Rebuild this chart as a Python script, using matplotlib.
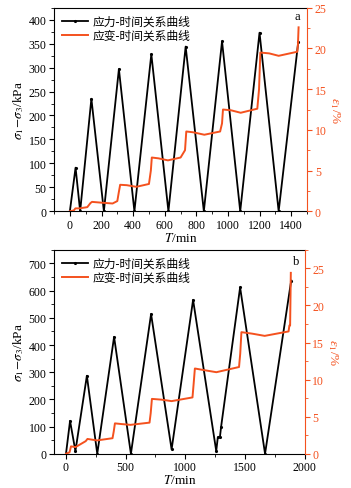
import numpy as np
import matplotlib.pyplot as plt
from matplotlib.ticker import MultipleLocator

plt.rcParams['font.family'] = ['Liberation Serif', 'Noto Sans CJK SC']
plt.rcParams['mathtext.fontset'] = 'stix'
plt.rcParams['axes.unicode_minus'] = False

RED = '#f4511e'

# --- panel a ---
t_stress_a = [0, 36, 65, 136, 215, 310, 408, 515, 623, 732, 847, 962, 1077, 1199, 1320, 1444]
stress_a = [0, 91, 0, 235, 0, 297, 0, 328, 0, 344, 0, 355, 0, 373, 0, 354]

t_strain_a = [0, 25, 35, 60, 110, 130, 140, 200, 270, 300, 310, 318, 360, 420, 500, 512, 518,
              560, 620, 700, 728, 736, 780, 850, 950, 962, 968, 1020, 1080, 1185, 1196, 1204,
              1260, 1320, 1438, 1442, 1446]
strain_a = [0, 0.1, 0.35, 0.35, 0.5, 1.0, 1.15, 1.05, 0.95, 1.25, 2.4, 3.25, 3.2, 3.0, 3.35, 5.0, 6.6,
            6.5, 6.25, 6.6, 7.5, 9.8, 9.7, 9.4, 9.8, 10.8, 12.5, 12.4, 12.1, 12.6, 15.0, 19.5,
            19.4, 19.1, 19.6, 20.5, 22.6]

# --- panel b ---
t_stress_b = [0, 34, 79, 175, 262, 403, 544, 713, 885, 1065, 1259, 1272, 1290, 1300, 1459, 1668, 1887]
stress_b = [0, 121, 10, 287, 0, 430, 0, 514, 16, 566, 10, 60, 62, 100, 612, 0, 637]

t_strain_b = [0, 30, 42, 80, 165, 180, 260, 390, 400, 410, 470, 540, 700, 710, 720, 800, 885,
              1060, 1070, 1080, 1150, 1260, 1450, 1460, 1470, 1560, 1665, 1865, 1872, 1878, 1884]
strain_b = [0, 0.2, 1.0, 0.9, 1.7, 2.0, 1.8, 2.1, 3.0, 4.1, 4.0, 3.9, 4.2, 5.5, 7.4, 7.3, 7.1,
            7.6, 9.5, 11.5, 11.3, 11.0, 11.7, 13.5, 16.4, 16.2, 15.9, 16.5, 17.3, 17.3, 24.4]

labels = ['应力-时间关系曲线', '应变-时间关系曲线']

fig = plt.figure(figsize=(3.51, 4.89), dpi=100)
ax_a = fig.add_axes([0.154, 0.566, 0.721, 0.416])
ax_b = fig.add_axes([0.154, 0.070, 0.714, 0.417])

panels = [
    (ax_a, t_stress_a, stress_a, t_strain_a, strain_a, (-100, 1500), 200, 100,
     (0, 425), 50, 25, (0, 25), 5, 2.5, 'a', (0.962, 0.962)),
    (ax_b, t_stress_b, stress_b, t_strain_b, strain_b, (-100, 2000), 500, 250,
     (0, 750), 100, 50, (0, 27.5), 5, 2.5, 'b', (0.965, 0.945)),
]

for (ax, ts, s, te, e, xl, xmaj, xmin, yl, ymaj, ymin, el, emaj, emin, tag, tagpos) in panels:
    l1, = ax.plot(ts, s, color='black', lw=1.3, marker='.', ms=2.5, label=labels[0])
    ax.set_xlim(*xl)
    ax.set_ylim(*yl)
    ax.xaxis.set_major_locator(MultipleLocator(xmaj))
    ax.xaxis.set_minor_locator(MultipleLocator(xmin))
    ax.yaxis.set_major_locator(MultipleLocator(ymaj))
    ax.yaxis.set_minor_locator(MultipleLocator(ymin))
    ax.tick_params(which='major', length=3.5, width=0.8, labelsize=8.5, pad=2)
    ax.tick_params(which='minor', length=2, width=0.6)
    ax.set_xlabel(r'$T$/min', fontsize=9.5, labelpad=0)
    ax.set_ylabel(r'$\sigma_1\!-\!\sigma_3$/kPa', fontsize=9.5, labelpad=2)
    ax.spines['right'].set_visible(False)

    ax2 = ax.twinx()
    l2, = ax2.plot(te, e, color=RED, lw=1.4, label=labels[1])
    ax2.set_ylim(*el)
    ax2.yaxis.set_major_locator(MultipleLocator(emaj))
    ax2.yaxis.set_minor_locator(MultipleLocator(emin))
    ax2.tick_params(axis='y', which='major', length=3.5, width=0.8, labelsize=8.5,
                    colors=RED, pad=2)
    ax2.tick_params(axis='y', which='minor', length=2, width=0.6, colors=RED)
    for side in ['left', 'top', 'bottom']:
        ax2.spines[side].set_visible(False)
    ax2.spines['right'].set_color(RED)
    ax2.set_ylabel(r'$\varepsilon_1$/%', fontsize=9.5, color=RED, rotation=270, labelpad=11)

    ax.legend([l1, l2], labels, loc='upper left', frameon=False, fontsize=8.5,
              handlelength=2.2, handletextpad=0.4, borderaxespad=0.3, labelspacing=0.15)
    ax.text(tagpos[0], tagpos[1], tag, transform=ax.transAxes, fontsize=9,
            ha='center', va='center')

fig.savefig('out.png', dpi=100)
